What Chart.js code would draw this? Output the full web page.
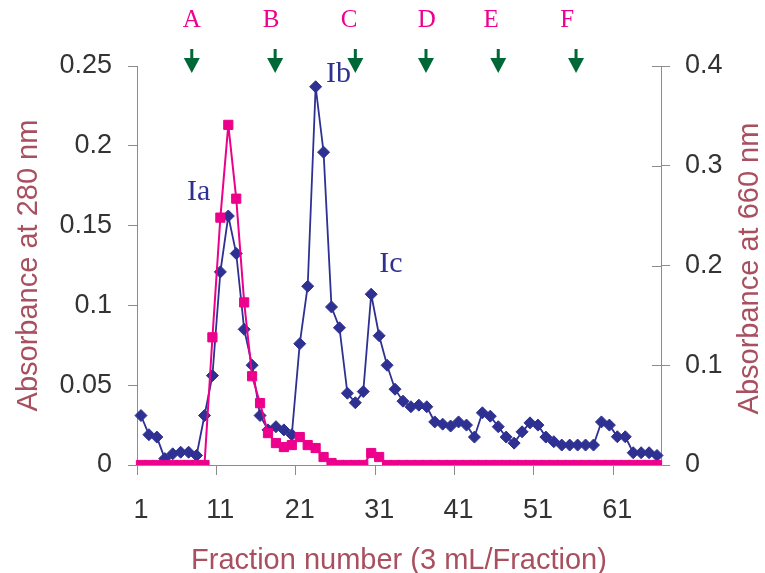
<!DOCTYPE html>
<html>
<head>
<meta charset="utf-8">
<script src="https://cdn.jsdelivr.net/npm/chart.js@4.4.1/dist/chart.umd.min.js"></script>
<style>
  html, body { margin: 0; padding: 0; background: #fff; }
</style>
</head>
<body>
<canvas id="elutionChart" width="765" height="573"></canvas>
<script>
// fraction numbers 1..66 (category axis)
const fractions = Array.from({ length: 66 }, (_, i) => i + 1);

// absorbance at 280 nm (left axis, blue diamonds)
const abs280 = [
  0.031, 0.019, 0.0175, 0.004, 0.007, 0.008, 0.008, 0.006, 0.031, 0.056,
  0.121, 0.156, 0.1325, 0.085, 0.0625, 0.031, 0.022, 0.024, 0.022, 0.019,
  0.076, 0.112, 0.237, 0.196, 0.099, 0.086, 0.045, 0.039, 0.046, 0.107,
  0.081, 0.0625, 0.0475, 0.04, 0.0365, 0.0375, 0.0365, 0.027, 0.0256, 0.0244,
  0.027, 0.025, 0.0175, 0.0327, 0.0306, 0.024, 0.0175, 0.0137, 0.0208, 0.0264,
  0.025, 0.0175, 0.0146, 0.0125, 0.0125, 0.0125, 0.0125, 0.0125, 0.027, 0.025,
  0.0177, 0.0177, 0.0077, 0.0077, 0.0077, 0.006
];

// absorbance at 660 nm (right axis, pink squares)
const abs660 = [
  0, 0, 0, 0, 0, 0, 0, 0, 0, 0.128,
  0.248, 0.341, 0.267, 0.163, 0.089, 0.062, 0.032, 0.022, 0.018, 0.02,
  0.028, 0.02, 0.017, 0.008, 0.002, 0, 0, 0, 0, 0.012,
  0.008, 0, 0, 0, 0, 0, 0, 0, 0, 0,
  0, 0, 0, 0, 0, 0, 0, 0, 0, 0,
  0, 0, 0, 0, 0, 0, 0, 0, 0, 0,
  0, 0, 0, 0, 0, 0
];

// tube markers above the plot
const markerLetters = ['A', 'B', 'C', 'D', 'E', 'F'];
const letterFractions = [7.4, 17.4, 27.2, 37.0, 45.1, 54.7];
const arrowFractions = [7.4, 17.9, 28.0, 36.9, 46.0, 55.8];

// peak names
const peakNames = ['Ia', 'Ib', 'Ic'];
const peakFractions = [6.8, 24.3, 31.0];
const peakValues = [0.166, 0.24, 0.121];

const axisGray = '#8c8c8c';
const titleColor = '#a8505f';
const blue = '#2e3192';
const pink = '#ec008c';
const green = '#006837';

Chart.defaults.font.family = '"Liberation Sans", Arial, sans-serif';

// 0.20 -> 0.2, 0.00 -> 0
const plainNumber = v => String(Number(v.toFixed(3)));

const decorations = {
  id: 'decorations',
  beforeDatasetsDraw(chart) {
    // inner half of right axis tick marks
    const { ctx, chartArea } = chart;
    const r = chart.scales.y1;
    ctx.save();
    ctx.strokeStyle = axisGray;
    ctx.lineWidth = 1;
    r.ticks.forEach(t => {
      const y = Math.round(r.getPixelForValue(t.value)) + 0.5;
      ctx.beginPath();
      ctx.moveTo(chartArea.right - 9, y);
      ctx.lineTo(chartArea.right, y);
      ctx.stroke();
    });
    ctx.restore();
  },
  afterDraw(chart) {
    const { ctx, chartArea } = chart;
    const x = chart.scales.x;
    const y = chart.scales.y;
    ctx.save();

    // arrows
    ctx.fillStyle = green;
    arrowFractions.forEach(f => {
      const px = x.getPixelForValue(f - 1);
      ctx.fillRect(px - 1.5, chartArea.top - 17, 3, 10);
      ctx.beginPath();
      ctx.moveTo(px - 8, chartArea.top - 8);
      ctx.lineTo(px + 8, chartArea.top - 8);
      ctx.lineTo(px, chartArea.top + 7);
      ctx.closePath();
      ctx.fill();
    });

    // letters
    ctx.fillStyle = pink;
    ctx.font = '25px "Liberation Serif", "Times New Roman", serif';
    ctx.textAlign = 'center';
    ctx.textBaseline = 'alphabetic';
    markerLetters.forEach((l, i) => {
      ctx.fillText(l, x.getPixelForValue(letterFractions[i] - 1), 27);
    });

    // peak labels
    ctx.fillStyle = blue;
    ctx.font = '30px "Liberation Serif", "Times New Roman", serif';
    ctx.textAlign = 'left';
    peakNames.forEach((n, i) => {
      ctx.fillText(n, x.getPixelForValue(peakFractions[i] - 1), y.getPixelForValue(peakValues[i]));
    });

    // axis titles
    ctx.fillStyle = titleColor;
    ctx.font = '29px "Liberation Sans", Arial, sans-serif';
    ctx.textAlign = 'center';
    const midY = (chartArea.top + chartArea.bottom) / 2;
    ctx.fillText('Fraction number (3 mL/Fraction)', (chartArea.left + chartArea.right) / 2, chart.height - 4);

    ctx.save();
    ctx.translate(37, midY);
    ctx.rotate(-Math.PI / 2);
    ctx.fillText('Absorbance at 280 nm', 0, 0);
    ctx.restore();

    ctx.save();
    ctx.translate(758, midY + 3);
    ctx.rotate(-Math.PI / 2);
    ctx.fillText('Absorbance at 660 nm', 0, 0);
    ctx.restore();

    ctx.restore();
  }
};

new Chart(document.getElementById('elutionChart'), {
  type: 'line',
  data: {
    labels: fractions,
    datasets: [
      {
        label: 'Absorbance at 660 nm',
        data: abs660,
        yAxisID: 'y1',
        order: 0,
        borderColor: pink,
        backgroundColor: pink,
        borderWidth: 2,
        pointStyle: 'rect',
        pointRadius: 6.5,
        pointBorderWidth: 1,
        tension: 0
      },
      {
        label: 'Absorbance at 280 nm',
        data: abs280,
        yAxisID: 'y',
        order: 1,
        borderColor: blue,
        backgroundColor: blue,
        borderWidth: 1.8,
        pointStyle: 'rectRot',
        pointRadius: 6,
        pointBorderWidth: 1,
        tension: 0
      }
    ]
  },
  options: {
    responsive: false,
    animation: false,
    layout: { padding: { top: 66, left: 0, right: 0, bottom: 0 } },
    plugins: {
      legend: { display: false },
      tooltip: { enabled: false }
    },
    scales: {
      x: {
        type: 'category',
        offset: true,
        afterFit: s => { s.height = 108; },
        border: { color: axisGray, width: 1 },
        grid: {
          offset: true,
          drawOnChartArea: false,
          drawTicks: true,
          tickLength: 10,
          tickColor: c => (c.index % 10 === 0 ? axisGray : 'rgba(0,0,0,0)'),
          tickWidth: c => (c.index % 10 === 0 ? 1 : 0)
        },
        ticks: {
          autoSkip: false,
          maxRotation: 0,
          padding: 19,
          color: '#333',
          font: { size: 27 },
          callback: function (value, index) {
            return index % 10 === 0 ? String(this.getLabelForValue(value)) : '';
          }
        }
      },
      y: {
        position: 'left',
        min: 0,
        max: 0.25,
        afterFit: s => { s.width = 137; },
        border: { color: axisGray, width: 1 },
        grid: { drawOnChartArea: false, tickLength: 9, color: axisGray },
        ticks: { stepSize: 0.05, padding: 16, color: '#333', font: { size: 27 }, callback: plainNumber }
      },
      y1: {
        position: 'right',
        min: 0,
        max: 0.4,
        afterFit: s => { s.width = 104; },
        border: { color: axisGray, width: 1 },
        grid: { drawOnChartArea: false, tickLength: 9, color: axisGray },
        ticks: { stepSize: 0.1, padding: 15, color: '#333', font: { size: 27 }, callback: plainNumber }
      }
    }
  },
  plugins: [decorations]
});
</script>
</body>
</html>
